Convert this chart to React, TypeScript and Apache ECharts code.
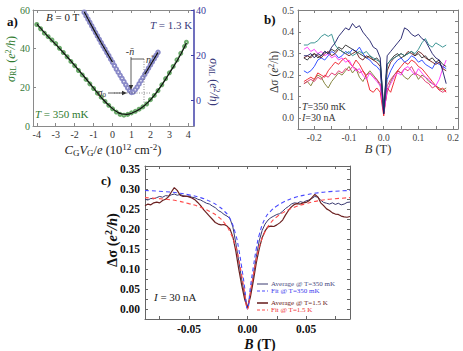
import React, { useEffect, useRef } from "react";
import * as echarts from "echarts";

const SERIF = "'Liberation Serif', 'Times New Roman', 'DejaVu Serif', serif";

// ---------------- panel a ----------------
const gateRL = [-4.0, -3.8, -3.6, -3.4, -3.2, -3.0, -2.8, -2.6, -2.4, -2.2, -2.0, -1.8, -1.6, -1.4, -1.2, -1.0, -0.8, -0.6, -0.4, -0.2, 0.0, 0.2, 0.4, 0.6, 0.8, 1.0, 1.2, 1.4, 1.6, 1.8, 2.0, 2.2, 2.4, 2.6, 2.8, 3.0, 3.2, 3.4, 3.6, 3.8, 3.9];
const sigmaRL = [52.5, 50.3, 48.0, 46.2, 44.5, 42.6, 40.2, 38.0, 35.8, 33.4, 31.2, 28.7, 26.4, 24.1, 21.8, 19.4, 17.0, 14.9, 12.7, 10.7, 8.9, 7.2, 6.0, 5.6, 6.0, 6.8, 7.6, 8.7, 9.9, 11.4, 13.6, 15.8, 18.3, 21.3, 24.5, 27.5, 30.8, 34.2, 37.6, 41.2, 43.3];
const fitRLGate = [-4, -3.5, -3, -2.5, -2, -1.5, -1, -0.5, 0, 0.25, 0.5, 0.75, 1, 1.5, 2, 2.5, 3, 3.5, 3.9];
const fitRL = [52.8, 47.3, 42.2, 36.9, 31.4, 25.6, 19.6, 13.7, 9.0, 7.2, 6.2, 6.0, 6.6, 9.2, 13.5, 19.8, 27.3, 35.3, 42.9];
const gateML = [-1.5, -1.4, -1.3, -1.2, -1.1, -1.0, -0.9, -0.8, -0.7, -0.6, -0.5, -0.4, -0.3, -0.2, -0.1, 0, 0.1, 0.2, 0.3, 0.4, 0.5, 0.6, 0.7, 0.8, 0.9, 1.0, 1.1, 1.2, 1.3, 1.4, 1.5, 1.6, 1.7, 1.8, 1.9, 2.0, 2.1, 2.2, 2.3, 2.4];
const sigmaML = [39.0, 37.5, 36.0, 34.5, 33.0, 31.5, 30.0, 28.5, 27.0, 25.5, 24.0, 22.6, 21.1, 19.7, 18.2, 16.8, 15.3, 13.8, 12.4, 11.0, 9.6, 8.2, 6.8, 5.4, 4.2, 3.4, 3.6, 4.6, 5.8, 7.2, 8.6, 10.0, 11.4, 12.8, 14.2, 15.6, 17.0, 18.4, 19.8, 21.2];
const fitMLGateLeft = [-1.5, -1.0, -0.5, 0.0];
const fitMLLeft = [39.2, 31.4, 24.0, 16.8];
const fitMLGateRight = [1.7, 2.0, 2.4];
const fitMLRight = [11.4, 15.6, 21.2];
const aXTicks = [-4, -3, -2, -1, 0, 1, 2, 3, 4];
const aYLeftTicks = [0, 20, 40, 60];
const aYRightTicks = [0, 20, 40];

// ---------------- panel b ----------------
const fieldB = [-0.23, -0.22, -0.21, -0.2, -0.19, -0.18, -0.17, -0.16, -0.15, -0.14, -0.13, -0.12, -0.11, -0.1, -0.09, -0.08, -0.07, -0.06, -0.05, -0.04, -0.03, -0.02, -0.01, 0, 0.01, 0.02, 0.03, 0.04, 0.05, 0.06, 0.07, 0.08, 0.09, 0.1, 0.11, 0.12, 0.13, 0.14, 0.15, 0.16, 0.17, 0.18];
const bOlive = [0.16, 0.17, 0.15, 0.18, 0.20, 0.19, 0.16, 0.14, 0.17, 0.19, 0.21, 0.20, 0.22, 0.24, 0.21, 0.23, 0.19, 0.17, 0.20, 0.22, 0.20, 0.18, 0.15, 0.03, 0.12, 0.17, 0.20, 0.22, 0.21, 0.19, 0.18, 0.20, 0.21, 0.18, 0.20, 0.19, 0.17, 0.16, 0.15, 0.14, 0.13, 0.14];
const bCrimson = [0.16, 0.17, 0.18, 0.17, 0.19, 0.18, 0.20, 0.19, 0.21, 0.20, 0.22, 0.21, 0.23, 0.22, 0.24, 0.23, 0.21, 0.22, 0.20, 0.21, 0.19, 0.18, 0.16, 0.02, 0.15, 0.18, 0.20, 0.22, 0.21, 0.23, 0.22, 0.24, 0.21, 0.20, 0.19, 0.17, 0.16, 0.14, 0.15, 0.13, 0.12, 0.13];
const bRed = [0.17, 0.18, 0.19, 0.18, 0.21, 0.20, 0.19, 0.22, 0.24, 0.26, 0.25, 0.27, 0.28, 0.26, 0.24, 0.27, 0.25, 0.22, 0.19, 0.13, 0.12, 0.14, 0.12, 0.01, 0.14, 0.12, 0.17, 0.22, 0.24, 0.26, 0.25, 0.27, 0.26, 0.24, 0.23, 0.21, 0.19, 0.17, 0.15, 0.13, 0.14, 0.12];
const bMagenta = [0.32, 0.33, 0.31, 0.32, 0.30, 0.31, 0.29, 0.30, 0.28, 0.29, 0.27, 0.28, 0.26, 0.27, 0.24, 0.22, 0.23, 0.20, 0.18, 0.21, 0.19, 0.17, 0.15, 0.02, 0.13, 0.16, 0.19, 0.21, 0.20, 0.23, 0.24, 0.22, 0.20, 0.23, 0.21, 0.19, 0.18, 0.16, 0.15, 0.18, 0.23, 0.27];
const bBlue = [0.22, 0.21, 0.22, 0.24, 0.27, 0.28, 0.27, 0.29, 0.31, 0.30, 0.28, 0.29, 0.31, 0.30, 0.32, 0.31, 0.33, 0.30, 0.28, 0.27, 0.25, 0.24, 0.22, 0.03, 0.18, 0.22, 0.25, 0.27, 0.28, 0.26, 0.27, 0.29, 0.28, 0.26, 0.27, 0.25, 0.24, 0.23, 0.26, 0.25, 0.24, 0.23];
const bMaroon = [0.28, 0.29, 0.28, 0.30, 0.29, 0.28, 0.30, 0.31, 0.29, 0.30, 0.32, 0.31, 0.30, 0.29, 0.30, 0.31, 0.28, 0.27, 0.29, 0.28, 0.27, 0.26, 0.24, 0.02, 0.22, 0.26, 0.28, 0.29, 0.30, 0.29, 0.31, 0.30, 0.29, 0.31, 0.30, 0.28, 0.27, 0.26, 0.25, 0.26, 0.23, 0.22];
const bBlack = [0.28, 0.27, 0.29, 0.30, 0.28, 0.29, 0.31, 0.30, 0.32, 0.31, 0.33, 0.32, 0.34, 0.33, 0.32, 0.31, 0.30, 0.29, 0.28, 0.29, 0.27, 0.28, 0.26, 0.05, 0.25, 0.27, 0.29, 0.30, 0.28, 0.29, 0.30, 0.31, 0.29, 0.30, 0.28, 0.29, 0.27, 0.28, 0.26, 0.27, 0.25, 0.24];
const bTeal = [0.34, 0.34, 0.35, 0.35, 0.36, 0.38, 0.39, 0.38, 0.39, 0.34, 0.32, 0.31, 0.30, 0.31, 0.29, 0.30, 0.31, 0.30, 0.31, 0.29, 0.28, 0.27, 0.26, 0.03, 0.25, 0.27, 0.28, 0.29, 0.30, 0.29, 0.30, 0.31, 0.30, 0.32, 0.35, 0.37, 0.34, 0.33, 0.35, 0.34, 0.33, 0.34];
const bNavy = [0.29, 0.29, 0.30, 0.28, 0.30, 0.29, 0.31, 0.30, 0.33, 0.35, 0.38, 0.40, 0.42, 0.41, 0.44, 0.42, 0.43, 0.40, 0.38, 0.36, 0.33, 0.32, 0.28, 0.02, 0.29, 0.31, 0.33, 0.35, 0.37, 0.42, 0.41, 0.39, 0.38, 0.39, 0.37, 0.36, 0.33, 0.30, 0.28, 0.27, 0.22, 0.16];
const bCurves = [bOlive, bCrimson, bRed, bMagenta, bBlue, bMaroon, bBlack, bTeal, bNavy];
const bColors = ["#7a7a30", "#e0306a", "#ee1c24", "#ff33ff", "#1f3fff", "#6b1515", "#2a2a2a", "#2a8a8a", "#1a1a66"];
const bXLabels = [-0.2, -0.1, 0, 0.1, 0.2];
const bXTicks = [-0.2, -0.15, -0.1, -0.05, 0, 0.05, 0.1, 0.15, 0.2];
const bYLabels = [0, 0.1, 0.2, 0.3, 0.4, 0.5];
const bYTicks = [0, 0.05, 0.1, 0.15, 0.2, 0.25, 0.3, 0.35, 0.4, 0.45, 0.5];

// ---------------- panel c ----------------
const fieldC = [-0.0875, -0.085, -0.0825, -0.08, -0.0775, -0.075, -0.0725, -0.07, -0.0675, -0.065, -0.0625, -0.06, -0.0575, -0.055, -0.0525, -0.05, -0.0475, -0.045, -0.0425, -0.04, -0.0375, -0.035, -0.0325, -0.03, -0.0275, -0.025, -0.0225, -0.02, -0.0175, -0.015, -0.0125, -0.01, -0.0075, -0.005, -0.0025, 0, 0.0025, 0.005, 0.0075, 0.01, 0.0125, 0.015, 0.0175, 0.02, 0.0225, 0.025, 0.0275, 0.03, 0.0325, 0.035, 0.0375, 0.04, 0.0425, 0.045, 0.0475, 0.05, 0.0525, 0.055, 0.0575, 0.06, 0.0625, 0.065, 0.0675, 0.07, 0.0725, 0.075, 0.0775, 0.08, 0.0825, 0.085, 0.0875];
const avg350 = [0.274, 0.272, 0.276, 0.275, 0.278, 0.281, 0.279, 0.283, 0.282, 0.285, 0.287, 0.284, 0.286, 0.283, 0.281, 0.282, 0.279, 0.278, 0.274, 0.272, 0.268, 0.264, 0.262, 0.257, 0.253, 0.246, 0.242, 0.236, 0.232, 0.226, 0.205, 0.165, 0.120, 0.075, 0.035, 0.003, 0.040, 0.085, 0.130, 0.170, 0.196, 0.212, 0.222, 0.228, 0.232, 0.236, 0.238, 0.244, 0.251, 0.256, 0.262, 0.265, 0.264, 0.268, 0.266, 0.270, 0.272, 0.276, 0.281, 0.279, 0.272, 0.266, 0.264, 0.262, 0.265, 0.261, 0.264, 0.260, 0.262, 0.266, 0.267];
const avg15 = [0.258, 0.262, 0.260, 0.265, 0.267, 0.265, 0.271, 0.274, 0.280, 0.292, 0.303, 0.296, 0.284, 0.281, 0.282, 0.280, 0.277, 0.273, 0.266, 0.258, 0.248, 0.240, 0.232, 0.224, 0.216, 0.212, 0.210, 0.211, 0.207, 0.200, 0.180, 0.145, 0.100, 0.060, 0.025, 0.002, 0.030, 0.070, 0.115, 0.150, 0.178, 0.195, 0.205, 0.207, 0.206, 0.210, 0.215, 0.222, 0.235, 0.246, 0.255, 0.261, 0.263, 0.262, 0.265, 0.266, 0.270, 0.278, 0.286, 0.280, 0.265, 0.258, 0.250, 0.246, 0.240, 0.237, 0.236, 0.232, 0.230, 0.229, 0.231];
const fitField = [-0.0875, -0.07, -0.06, -0.05, -0.04, -0.03, -0.025, -0.02, -0.015, -0.01, -0.0075, -0.005, -0.0025, 0, 0.0025, 0.005, 0.0075, 0.01, 0.015, 0.02, 0.025, 0.03, 0.04, 0.05, 0.06, 0.07, 0.0875];
const fit350 = [0.296, 0.293, 0.290, 0.285, 0.278, 0.266, 0.257, 0.245, 0.226, 0.185, 0.150, 0.105, 0.055, 0.0, 0.055, 0.105, 0.150, 0.185, 0.226, 0.245, 0.257, 0.266, 0.278, 0.285, 0.290, 0.293, 0.296];
const fit15 = [0.278, 0.274, 0.270, 0.263, 0.254, 0.240, 0.230, 0.216, 0.193, 0.155, 0.124, 0.085, 0.043, 0.0, 0.043, 0.085, 0.124, 0.155, 0.193, 0.216, 0.230, 0.240, 0.254, 0.263, 0.270, 0.274, 0.278];
const cXLabels = [-0.05, 0, 0.05];
const cXTicks = [-0.075, -0.05, -0.025, 0, 0.025, 0.05, 0.075];
const cYLabels = [0, 0.05, 0.1, 0.15, 0.2, 0.25, 0.3, 0.35];
const cYTicks = [0, 0.025, 0.05, 0.075, 0.1, 0.125, 0.15, 0.175, 0.2, 0.225, 0.25, 0.275, 0.3, 0.325, 0.35];
const legendC = ["Average @ T=350 mK", "Fit @ T=350 mK", "Average @ T=1.5 K", "Fit @ T=1.5 K"];

const pts = (xs: number[], ys: number[]) => xs.map((x, i) => [x, ys[i]]);

function rich(size: number, color: string, weight = "normal") {
  const base = { fontFamily: SERIF, fontSize: size, fill: color, fontWeight: weight };
  const small = Math.round(size * 0.68);
  const off = Math.round(size * 0.45);
  return {
    n: { ...base },
    i: { ...base, fontStyle: "italic" },
    sub: { ...base, fontSize: small, padding: [off, 0, 0, 0] },
    sup: { ...base, fontSize: small, padding: [0, 0, off, 0] },
  };
}

function rtext(x: number, y: number, text: string, size: number, color: string, o: any = {}) {
  return {
    type: "text",
    x,
    y,
    rotation: o.rotation || 0,
    z: 100,
    style: {
      text,
      rich: rich(size, color, o.weight || "normal"),
      fontFamily: SERIF,
      fontSize: size,
      fontWeight: o.weight || "normal",
      fill: color,
      align: o.align || "left",
      verticalAlign: o.va || "middle",
    },
  };
}

function gline(x1: number, y1: number, x2: number, y2: number, color: string, width = 1, dash?: number[]) {
  return {
    type: "line",
    z: 100,
    shape: { x1, y1, x2, y2 },
    style: { stroke: color, lineWidth: width, lineDash: dash || null },
  };
}

function xAx(grid: number, min: number, max: number, pos: string, ticks: number[], labels: number[] | null, lbl: any, lineColor: string) {
  return {
    type: "value",
    gridIndex: grid,
    min,
    max,
    position: pos,
    axisLine: { show: true, onZero: false, lineStyle: { color: lineColor, width: 1 } },
    axisTick: { show: true, inside: true, length: 3, customValues: ticks, lineStyle: { color: lineColor } },
    axisLabel: labels ? { show: true, customValues: labels, ...lbl } : { show: false },
    splitLine: { show: false },
    minorTick: { show: false },
  };
}

function yAx(grid: number, min: number, max: number, pos: string, ticks: number[], labels: number[] | null, lbl: any, lineColor: string, lineWidth = 1) {
  return {
    type: "value",
    gridIndex: grid,
    min,
    max,
    position: pos,
    axisLine: { show: true, onZero: false, lineStyle: { color: lineColor, width: lineWidth } },
    axisTick: { show: true, inside: true, length: 3, customValues: ticks, lineStyle: { color: lineColor } },
    axisLabel: labels ? { show: true, customValues: labels, ...lbl } : { show: false },
    splitLine: { show: false },
    minorTick: { show: false },
  };
}

const lblA = { fontFamily: SERIF, fontSize: 10, color: "#333", margin: 3 };
const lblB = { fontFamily: SERIF, fontSize: 9.5, color: "#444", margin: 4, formatter: (v: number) => v.toFixed(1) };
const lblCX = { fontFamily: SERIF, fontSize: 11.5, fontWeight: "bold", color: "#111", margin: 4, formatter: (v: number) => v.toFixed(2) };
const lblCY = { fontFamily: SERIF, fontSize: 11.5, fontWeight: "bold", color: "#111", margin: 5, formatter: (v: number) => v.toFixed(2) };

const GA = "#8a8a8a";
const GB = "#7f7f7f";
const GC = "#666666";

function buildOption() {
  const series: any[] = [];
  // panel a
  series.push({
    type: "line", xAxisIndex: 0, yAxisIndex: 0, data: pts(gateRL, sigmaRL),
    symbol: "emptyCircle", symbolSize: 3, showSymbol: true,
    itemStyle: { color: "#6aaa6a", borderWidth: 0.7 },
    lineStyle: { color: "#8cc48c", width: 1.6 }, z: 2,
  });
  series.push({
    type: "line", xAxisIndex: 0, yAxisIndex: 0, data: pts(fitRLGate, fitRL), smooth: true,
    symbol: "none", lineStyle: { color: "#111", width: 1.2 }, z: 3,
  });
  series.push({
    type: "line", xAxisIndex: 0, yAxisIndex: 1, data: pts(gateML, sigmaML),
    symbol: "emptyCircle", symbolSize: 3.5, showSymbol: true,
    itemStyle: { color: "#8a8ac8", borderWidth: 0.7 },
    lineStyle: { color: "#b4b4dc", width: 1 }, z: 2,
  });
  series.push({
    type: "line", xAxisIndex: 0, yAxisIndex: 1, data: pts(fitMLGateLeft, fitMLLeft), smooth: true,
    symbol: "none", lineStyle: { color: "#111", width: 1.2 }, z: 3,
  });
  series.push({
    type: "line", xAxisIndex: 0, yAxisIndex: 1, data: pts(fitMLGateRight, fitMLRight), smooth: true,
    symbol: "none", lineStyle: { color: "#111", width: 1.2 }, z: 3,
  });
  // panel b
  bCurves.forEach((vals, k) => {
    series.push({
      type: "line", xAxisIndex: 1, yAxisIndex: 2, data: pts(fieldB, vals),
      symbol: "none", lineStyle: { color: bColors[k], width: 0.9 }, z: 2,
    });
  });
  // panel c
  series.push({
    type: "line", xAxisIndex: 2, yAxisIndex: 3, data: pts(fieldC, avg350),
    symbol: "none", lineStyle: { color: "#3a3a70", width: 1 }, z: 3,
  });
  series.push({
    type: "line", xAxisIndex: 2, yAxisIndex: 3, data: pts(fieldC, avg15),
    symbol: "none", lineStyle: { color: "#6b2020", width: 1.2 }, z: 3,
  });
  series.push({
    type: "line", xAxisIndex: 2, yAxisIndex: 3, data: pts(fitField, fit350), smooth: true,
    symbol: "none", lineStyle: { color: "#4a4aff", width: 1.1, type: [4, 3] }, z: 4,
  });
  series.push({
    type: "line", xAxisIndex: 2, yAxisIndex: 3, data: pts(fitField, fit15), smooth: true,
    symbol: "none", lineStyle: { color: "#ff4a4a", width: 1.1, type: [4, 3] }, z: 4,
  });

  const graphic: any[] = [
    // panel a texts
    rtext(7, 21, "{n|a)}", 13, "#111", { weight: "bold" }),
    rtext(46, 17, "{i|B}{n| = 0 T}", 11, "#222"),
    rtext(150, 25, "{i|T}{n| = 1.3 K}", 11, "#3a3a7a"),
    rtext(35, 114, "{i|T}{n| = 350 mK}", 11, "#2e7a2e"),
    rtext(11, 59, "{i|σ}{sub|RL}{n| (}{i|e}{sup|2}{i|/h}{n|)}", 12, "#2e7a2e", { align: "center", rotation: Math.PI / 2 }),
    rtext(214, 82, "{i|σ}{sub|ML}{n| (}{i|e}{sup|2}{i|/h}{n|)}", 12, "#3a3a7a", { align: "center", rotation: -Math.PI / 2 }),
    rtext(113, 150, "{i|C}{sub|G}{i|V}{sub|G}{n|/}{i|e}{n| (10}{sup|12}{n| cm}{sup|-2}{n|)}", 12.5, "#222", { align: "center" }),
    rtext(130, 51, "{n|-}{i|n\u0304}", 10, "#333", { align: "center" }),
    rtext(146, 59, "{i|n}{sup|*}", 10, "#333"),
    rtext(106, 92, "{i|σ}{sub|0}", 10, "#333", { align: "right" }),
    gline(131, 57, 131, 87, "#333", 0.8),
    { type: "polygon", z: 100, shape: { points: [[128.8, 85], [133.2, 85], [131, 90]] }, style: { fill: "#333" } },
    gline(131, 59, 144, 59, "#333", 0.8),
    gline(144, 59, 144, 104, "#555", 0.7, [1, 1.5]),
    gline(114, 93, 150, 93, "#555", 0.7, [1, 1.5]),
    gline(108, 93, 124, 93, "#333", 0.8),
    { type: "polygon", z: 100, shape: { points: [[122, 90.8], [122, 95.2], [127, 93]] }, style: { fill: "#333" } },
    // panel b texts
    rtext(264, 19, "{n|b)}", 13, "#111", { weight: "bold" }),
    rtext(274, 72, "{n|Δσ (}{i|e}{sup|2}{n|/h)}", 11.5, "#333", { align: "center", rotation: Math.PI / 2 }),
    rtext(378, 149, "{i|B}{n| (T)}", 12.5, "#333", { align: "center" }),
    rtext(302, 106, "{i|T}{n|=350 mK}", 10, "#333"),
    rtext(302, 117.5, "{i|I}{n|=30 nA}", 10, "#333"),
    // panel c texts
    rtext(101, 180, "{n|c)}", 13, "#111", { weight: "bold" }),
    rtext(112, 240, "{n|Δσ (}{i|e}{sup|2}{i|/h}{n|)}", 14.5, "#111", { weight: "bold", align: "center", rotation: Math.PI / 2 }),
    rtext(260, 344, "{i|B}{n| (T)}", 14, "#111", { weight: "bold", align: "center" }),
    rtext(154, 297, "{i|I}{n| = 30 nA}", 11, "#222"),
    // legend c
    gline(257, 284, 268, 284, "#3a3a70", 1),
    gline(257, 291, 268, 291, "#4a4aff", 1, [3, 2]),
    gline(257, 303, 268, 303, "#5a0a0a", 1.4),
    gline(257, 310, 268, 310, "#ff4a4a", 1, [3, 2]),
    rtext(271, 284, "{n|" + legendC[0] + "}", 7, "#4a4a80"),
    rtext(271, 291, "{n|" + legendC[1] + "}", 7, "#3a3aee"),
    rtext(271, 303, "{n|" + legendC[2] + "}", 7, "#6b2020"),
    rtext(271, 310, "{n|" + legendC[3] + "}", 7, "#ee3030"),
  ];

  return {
    animation: false,
    backgroundColor: "#ffffff",
    grid: [
      { left: 33, top: 10, width: 161, height: 116, containLabel: false, outerBoundsMode: "none" },
      { left: 298, top: 10, width: 160, height: 119, containLabel: false, outerBoundsMode: "none" },
      { left: 145, top: 166, width: 205, height: 153, containLabel: false, outerBoundsMode: "none" },
    ],
    xAxis: [
      xAx(0, -4.2, 4.3, "bottom", aXTicks, aXTicks, lblA, GA),
      xAx(1, -0.247, 0.214, "bottom", bXTicks, bXLabels, lblB, GB),
      xAx(2, -0.0875, 0.0875, "bottom", cXTicks, cXLabels, lblCX, GC),
      xAx(0, -4.2, 4.3, "top", aXTicks, null, {}, GA),
      xAx(1, -0.247, 0.214, "top", bXTicks, null, {}, GB),
      xAx(2, -0.0875, 0.0875, "top", cXTicks, null, {}, GC),
    ],
    yAxis: [
      yAx(0, 0, 60, "left", aYLeftTicks, aYLeftTicks, { ...lblA, color: "#3a7a3a" }, GA),
      yAx(0, -11.5, 40, "right", aYRightTicks, aYRightTicks, { ...lblA, color: "#3a3a9a", margin: 2 }, "#4040a8", 1.5),
      yAx(1, -0.051, 0.503, "left", bYTicks, bYLabels, lblB, GB),
      yAx(2, -0.025, 0.357, "left", cYTicks, cYLabels, lblCY, GC),
      yAx(1, -0.051, 0.503, "right", bYTicks, null, {}, GB),
      yAx(2, -0.025, 0.357, "right", cYTicks, null, {}, GC),
    ],
    series,
    graphic,
  };
}

export default function App() {
  const ref = useRef<HTMLDivElement>(null);
  useEffect(() => {
    if (!ref.current) return;
    const chart = echarts.init(ref.current, null, { renderer: "svg" });
    chart.setOption(buildOption() as any);
    return () => chart.dispose();
  }, []);
  return (
    <div
      ref={ref}
      style={{ position: "fixed", left: 0, top: 0, width: 463, height: 351, background: "#fff" }}
    />
  );
}
